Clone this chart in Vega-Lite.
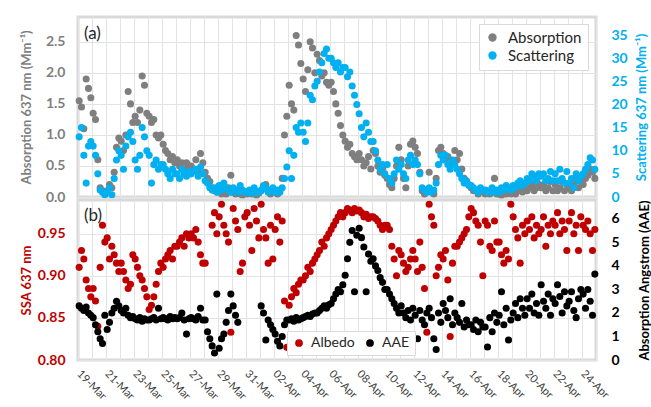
{
"$schema":"https://vega.github.io/schema/vega-lite/v6.json",
"background":"white",
"padding":{"left":18,"top":15,"right":0,"bottom":0},
"config":{"font":"Lato","view":{"stroke":"#d9d9d9","strokeWidth":3},"axis":{"domain":false,"ticks":false,"gridColor":"#e3e3e3","labelFont":"Lato","titleFont":"Lato","labelOverlap":false},"legend":{"labelFont":"Lato"},"title":{"font":"Lato","fontSize":17,"fontWeight":"normal","color":"#262626","anchor":"start","frame":"group"}},
"data":{"values":[
{"t":"2019-03-19T02:00Z","a":1.55,"s":13,"w":0.91,"e":2.3},{"t":"2019-03-19T06:00Z","a":1.45,"s":15,"w":0.93,"e":2.2},{"t":"2019-03-19T10:00Z","a":1.1,"s":9,"w":0.92,"e":2.1},{"t":"2019-03-19T14:00Z","a":1.9,"s":3,"w":0.895,"e":2.25},{"t":"2019-03-19T18:00Z","a":1.75,"s":11,"w":0.885,"e":2.0},{"t":"2019-03-19T22:00Z","a":1.6,"s":12,"w":0.875,"e":1.9},
{"t":"2019-03-20T02:00Z","a":1.35,"s":11,"w":0.885,"e":1.8},{"t":"2019-03-20T06:00Z","a":1.25,"s":9,"w":0.87,"e":1.5},{"t":"2019-03-20T10:00Z","a":0.6,"s":5,"w":0.84,"e":1.2},{"t":"2019-03-20T14:00Z","a":0.15,"s":1.5,"w":0.91,"e":0.9},{"t":"2019-03-20T18:00Z","a":0.1,"s":1,"w":0.96,"e":0.7},{"t":"2019-03-20T22:00Z","a":0.05,"s":0.5,"w":0.94,"e":1.9},
{"t":"2019-03-21T02:00Z","a":0.1,"s":1,"w":0.945,"e":1.3},{"t":"2019-03-21T06:00Z","a":0.2,"s":2,"w":0.92,"e":1.6},{"t":"2019-03-21T10:00Z","a":0.15,"s":0.5,"w":0.935,"e":2.0},{"t":"2019-03-21T14:00Z","a":0.4,"s":4,"w":0.925,"e":2.2},{"t":"2019-03-21T18:00Z","a":0.8,"s":8,"w":0.915,"e":2.5},{"t":"2019-03-21T22:00Z","a":0.95,"s":10,"w":0.905,"e":2.3},
{"t":"2019-03-22T02:00Z","a":0.9,"s":9,"w":0.915,"e":2.1},{"t":"2019-03-22T06:00Z","a":0.75,"s":6,"w":0.905,"e":2.0},{"t":"2019-03-22T10:00Z","a":1.0,"s":11,"w":0.895,"e":2.2},{"t":"2019-03-22T14:00Z","a":1.7,"s":13,"w":0.885,"e":1.9},{"t":"2019-03-22T18:00Z","a":1.5,"s":14,"w":0.89,"e":1.8},{"t":"2019-03-22T22:00Z","a":1.2,"s":12,"w":0.925,"e":1.85},
{"t":"2019-03-23T02:00Z","a":1.3,"s":8,"w":0.92,"e":1.75},{"t":"2019-03-23T06:00Z","a":1.2,"s":6,"w":0.91,"e":1.7},{"t":"2019-03-23T10:00Z","a":1.4,"s":9,"w":0.9,"e":1.8},{"t":"2019-03-23T14:00Z","a":1.95,"s":15,"w":0.895,"e":1.65},{"t":"2019-03-23T18:00Z","a":1.8,"s":13,"w":0.885,"e":1.75},{"t":"2019-03-23T22:00Z","a":1.35,"s":10,"w":0.875,"e":1.7},
{"t":"2019-03-24T02:00Z","a":1.3,"s":9,"w":0.86,"e":1.7},{"t":"2019-03-24T06:00Z","a":1.2,"s":3,"w":0.865,"e":1.75},{"t":"2019-03-24T10:00Z","a":1.25,"s":7,"w":0.875,"e":1.8},{"t":"2019-03-24T14:00Z","a":1.0,"s":8,"w":0.89,"e":1.7},{"t":"2019-03-24T18:00Z","a":0.95,"s":6,"w":0.905,"e":2.2},{"t":"2019-03-24T22:00Z","a":1.0,"s":7,"w":0.915,"e":1.75},
{"t":"2019-03-25T02:00Z","a":0.85,"s":7,"w":0.91,"e":1.8},{"t":"2019-03-25T06:00Z","a":0.75,"s":6,"w":0.92,"e":1.75},{"t":"2019-03-25T10:00Z","a":0.7,"s":5,"w":0.925,"e":1.7},{"t":"2019-03-25T14:00Z","a":0.6,"s":4,"w":0.93,"e":1.85},{"t":"2019-03-25T18:00Z","a":0.65,"s":6,"w":0.92,"e":1.75},{"t":"2019-03-25T22:00Z","a":0.55,"s":5,"w":0.935,"e":1.8},
{"t":"2019-03-26T02:00Z","a":0.6,"s":5,"w":0.935,"e":1.75},{"t":"2019-03-26T06:00Z","a":0.5,"s":4,"w":0.94,"e":1.8},{"t":"2019-03-26T10:00Z","a":0.55,"s":6,"w":0.945,"e":2.0},{"t":"2019-03-26T14:00Z","a":0.45,"s":5,"w":0.935,"e":1.7},{"t":"2019-03-26T18:00Z","a":0.55,"s":4.5,"w":0.95,"e":1.1},{"t":"2019-03-26T22:00Z","a":0.5,"s":5.5,"w":0.945,"e":1.75},
{"t":"2019-03-27T02:00Z","a":0.5,"s":5,"w":0.95,"e":1.8},{"t":"2019-03-27T06:00Z","a":0.45,"s":5.5,"w":0.945,"e":1.75},{"t":"2019-03-27T10:00Z","a":0.6,"s":6,"w":0.955,"e":1.7},{"t":"2019-03-27T14:00Z","a":0.4,"s":4.5,"w":0.94,"e":1.85},{"t":"2019-03-27T18:00Z","a":0.7,"s":6.5,"w":0.925,"e":2.2},{"t":"2019-03-27T22:00Z","a":0.55,"s":5,"w":0.915,"e":1.7},
{"t":"2019-03-28T02:00Z","a":0.4,"s":3.5,"w":0.915,"e":1.7},{"t":"2019-03-28T06:00Z","a":0.3,"s":3,"w":null,"e":1.2},{"t":"2019-03-28T10:00Z","a":0.25,"s":2,"w":null,"e":0.9},{"t":"2019-03-28T14:00Z","a":0.15,"s":1.5,"w":0.96,"e":0.6},{"t":"2019-03-28T18:00Z","a":0.1,"s":2,"w":0.975,"e":0.3},{"t":"2019-03-28T22:00Z","a":0.1,"s":1,"w":0.95,"e":2.8},
{"t":"2019-03-29T02:00Z","a":0.1,"s":2.5,"w":0.97,"e":0.5},{"t":"2019-03-29T06:00Z","a":0.05,"s":1.5,"w":0.985,"e":0.9},{"t":"2019-03-29T10:00Z","a":0.1,"s":3,"w":0.96,"e":1.1},{"t":"2019-03-29T14:00Z","a":0.05,"s":2,"w":0.95,"e":1.6},{"t":"2019-03-29T18:00Z","a":0.15,"s":1.5,"w":0.94,"e":2.1},{"t":"2019-03-29T22:00Z","a":0.35,"s":1,"w":0.833,"e":2.8},
{"t":"2019-03-30T02:00Z","a":0.08,"s":2,"w":0.98,"e":2.3},{"t":"2019-03-30T06:00Z","a":0.05,"s":1.5,"w":0.965,"e":1.9},{"t":"2019-03-30T10:00Z","a":0.1,"s":1,"w":0.955,"e":1.6},{"t":"2019-03-30T14:00Z","a":0.05,"s":2.5,"w":0.905,"e":null},{"t":"2019-03-30T18:00Z","a":0.03,"s":1.5,"w":0.915,"e":null},{"t":"2019-03-30T22:00Z","a":0.08,"s":1,"w":0.97,"e":null},
{"t":"2019-03-31T02:00Z","a":0.05,"s":1,"w":0.975,"e":null},{"t":"2019-03-31T06:00Z","a":0.1,"s":1.5,"w":0.96,"e":null},{"t":"2019-03-31T10:00Z","a":0.05,"s":0.8,"w":0.93,"e":null},{"t":"2019-03-31T14:00Z","a":0.08,"s":2,"w":0.98,"e":null},{"t":"2019-03-31T18:00Z","a":0.03,"s":1.2,"w":0.965,"e":null},{"t":"2019-03-31T22:00Z","a":0.06,"s":1,"w":0.945,"e":null},
{"t":"2019-04-01T02:00Z","a":0.1,"s":1.5,"w":0.985,"e":2.3},{"t":"2019-04-01T06:00Z","a":0.15,"s":2.5,"w":0.955,"e":2.0},{"t":"2019-04-01T10:00Z","a":0.2,"s":2,"w":0.945,"e":0.85},{"t":"2019-04-01T14:00Z","a":0.1,"s":1,"w":0.915,"e":1.7},{"t":"2019-04-01T18:00Z","a":0.05,"s":1.5,"w":0.96,"e":1.5},{"t":"2019-04-01T22:00Z","a":0.1,"s":2,"w":0.92,"e":1.3},
{"t":"2019-04-02T02:00Z","a":0.1,"s":1,"w":0.955,"e":1.1},{"t":"2019-04-02T06:00Z","a":0.05,"s":1.5,"w":0.97,"e":0.8},{"t":"2019-04-02T10:00Z","a":0.1,"s":1,"w":0.94,"e":0.6},{"t":"2019-04-02T14:00Z","a":0.3,"s":2,"w":0.965,"e":1.0},{"t":"2019-04-02T18:00Z","a":1.0,"s":4,"w":0.87,"e":1.5},{"t":"2019-04-02T22:00Z","a":1.3,"s":6.5,"w":0.815,"e":1.7},
{"t":"2019-04-03T02:00Z","a":1.8,"s":10,"w":0.865,"e":1.7},{"t":"2019-04-03T06:00Z","a":1.5,"s":4,"w":0.875,"e":1.75},{"t":"2019-04-03T10:00Z","a":1.4,"s":9,"w":0.885,"e":1.65},{"t":"2019-04-03T14:00Z","a":2.6,"s":15,"w":0.88,"e":1.8},{"t":"2019-04-03T18:00Z","a":2.45,"s":14,"w":0.89,"e":1.7},{"t":"2019-04-03T22:00Z","a":2.15,"s":16,"w":0.895,"e":1.75},
{"t":"2019-04-04T02:00Z","a":1.9,"s":14,"w":0.895,"e":1.8},{"t":"2019-04-04T06:00Z","a":1.7,"s":12,"w":0.9,"e":1.85},{"t":"2019-04-04T10:00Z","a":2.05,"s":16,"w":0.91,"e":1.9},{"t":"2019-04-04T14:00Z","a":2.5,"s":22,"w":0.905,"e":1.85},{"t":"2019-04-04T18:00Z","a":2.4,"s":21,"w":0.915,"e":1.95},{"t":"2019-04-04T22:00Z","a":2.0,"s":24,"w":0.92,"e":2.0},
{"t":"2019-04-05T02:00Z","a":2.3,"s":25,"w":0.925,"e":2.0},{"t":"2019-04-05T06:00Z","a":2.2,"s":27,"w":0.93,"e":2.1},{"t":"2019-04-05T10:00Z","a":1.95,"s":29,"w":0.94,"e":2.2},{"t":"2019-04-05T14:00Z","a":2.0,"s":31,"w":0.935,"e":2.3},{"t":"2019-04-05T18:00Z","a":1.85,"s":32,"w":0.945,"e":2.2},{"t":"2019-04-05T22:00Z","a":1.8,"s":30,"w":0.95,"e":2.35},
{"t":"2019-04-06T02:00Z","a":1.85,"s":30,"w":0.955,"e":2.4},{"t":"2019-04-06T06:00Z","a":1.7,"s":29,"w":0.96,"e":2.6},{"t":"2019-04-06T10:00Z","a":1.5,"s":28,"w":0.965,"e":2.8},{"t":"2019-04-06T14:00Z","a":1.35,"s":29,"w":0.97,"e":3.0},{"t":"2019-04-06T18:00Z","a":1.15,"s":27,"w":0.975,"e":2.9},{"t":"2019-04-06T22:00Z","a":1.0,"s":28,"w":0.97,"e":3.2},
{"t":"2019-04-07T02:00Z","a":0.9,"s":28,"w":0.975,"e":3.6},{"t":"2019-04-07T06:00Z","a":0.8,"s":26,"w":0.98,"e":4.3},{"t":"2019-04-07T10:00Z","a":0.85,"s":27,"w":0.978,"e":5.0},{"t":"2019-04-07T14:00Z","a":0.7,"s":24,"w":0.975,"e":5.5},{"t":"2019-04-07T18:00Z","a":0.65,"s":22,"w":0.98,"e":2.9},{"t":"2019-04-07T22:00Z","a":0.6,"s":20,"w":0.977,"e":5.3},
{"t":"2019-04-08T02:00Z","a":0.7,"s":18,"w":0.978,"e":5.6},{"t":"2019-04-08T06:00Z","a":0.6,"s":15,"w":0.975,"e":5.2},{"t":"2019-04-08T10:00Z","a":0.5,"s":13,"w":0.97,"e":4.8},{"t":"2019-04-08T14:00Z","a":0.55,"s":16,"w":0.973,"e":2.9},{"t":"2019-04-08T18:00Z","a":0.65,"s":14,"w":0.968,"e":4.5},{"t":"2019-04-08T22:00Z","a":0.45,"s":12,"w":0.97,"e":4.2},
{"t":"2019-04-09T02:00Z","a":0.75,"s":12,"w":0.97,"e":4.3},{"t":"2019-04-09T06:00Z","a":0.7,"s":10,"w":0.968,"e":4.0},{"t":"2019-04-09T10:00Z","a":0.5,"s":8,"w":0.965,"e":3.8},{"t":"2019-04-09T14:00Z","a":0.4,"s":6,"w":0.96,"e":3.5},{"t":"2019-04-09T18:00Z","a":0.45,"s":7,"w":0.955,"e":3.3},{"t":"2019-04-09T22:00Z","a":0.35,"s":5,"w":0.96,"e":3.0},
{"t":"2019-04-10T02:00Z","a":0.3,"s":7,"w":0.96,"e":3.0},{"t":"2019-04-10T06:00Z","a":0.2,"s":4,"w":0.955,"e":2.8},{"t":"2019-04-10T10:00Z","a":0.15,"s":3,"w":0.935,"e":2.6},{"t":"2019-04-10T14:00Z","a":0.3,"s":5,"w":0.92,"e":2.4},{"t":"2019-04-10T18:00Z","a":0.5,"s":8,"w":0.9,"e":2.2},{"t":"2019-04-10T22:00Z","a":0.8,"s":6,"w":0.93,"e":2.0},
{"t":"2019-04-11T02:00Z","a":0.6,"s":7,"w":0.925,"e":2.3},{"t":"2019-04-11T06:00Z","a":0.3,"s":5,"w":0.915,"e":2.0},{"t":"2019-04-11T10:00Z","a":0.15,"s":4,"w":0.905,"e":1.8},{"t":"2019-04-11T14:00Z","a":0.5,"s":8,"w":0.91,"e":2.1},{"t":"2019-04-11T18:00Z","a":0.85,"s":9,"w":0.92,"e":1.7},{"t":"2019-04-11T22:00Z","a":0.9,"s":7,"w":0.93,"e":2.2},
{"t":"2019-04-12T02:00Z","a":0.8,"s":8,"w":0.92,"e":1.9},{"t":"2019-04-12T06:00Z","a":0.7,"s":7,"w":0.905,"e":0.9},{"t":"2019-04-12T10:00Z","a":0.4,"s":5,"w":0.94,"e":2.1},{"t":"2019-04-12T14:00Z","a":0.1,"s":2,"w":0.91,"e":1.7},{"t":"2019-04-12T18:00Z","a":0.05,"s":1.5,"w":0.885,"e":1.5},{"t":"2019-04-12T22:00Z","a":0.08,"s":1,"w":0.833,"e":2.0},
{"t":"2019-04-13T02:00Z","a":0.4,"s":2,"w":0.985,"e":2.2},{"t":"2019-04-13T06:00Z","a":0.1,"s":1,"w":0.97,"e":1.8},{"t":"2019-04-13T10:00Z","a":0.05,"s":1.5,"w":0.96,"e":0.9},{"t":"2019-04-13T14:00Z","a":0.3,"s":3,"w":0.9,"e":0.45},{"t":"2019-04-13T18:00Z","a":0.75,"s":7,"w":0.91,"e":2.0},{"t":"2019-04-13T22:00Z","a":0.8,"s":9,"w":0.925,"e":1.6},
{"t":"2019-04-14T02:00Z","a":0.7,"s":8,"w":0.92,"e":2.4},{"t":"2019-04-14T06:00Z","a":0.6,"s":9,"w":0.93,"e":2.1},{"t":"2019-04-14T10:00Z","a":0.65,"s":7,"w":0.895,"e":1.8},{"t":"2019-04-14T14:00Z","a":0.5,"s":6,"w":0.828,"e":2.6},{"t":"2019-04-14T18:00Z","a":0.55,"s":8,"w":0.915,"e":1.5},{"t":"2019-04-14T22:00Z","a":0.75,"s":7,"w":0.935,"e":2.0},
{"t":"2019-04-15T02:00Z","a":0.6,"s":6,"w":0.935,"e":1.8},{"t":"2019-04-15T06:00Z","a":0.7,"s":5,"w":0.94,"e":1.6},{"t":"2019-04-15T10:00Z","a":0.45,"s":4,"w":0.945,"e":2.4},{"t":"2019-04-15T14:00Z","a":0.3,"s":3,"w":0.95,"e":1.4},{"t":"2019-04-15T18:00Z","a":0.25,"s":3.5,"w":0.955,"e":1.7},{"t":"2019-04-15T22:00Z","a":0.2,"s":2.5,"w":0.97,"e":1.5},
{"t":"2019-04-16T02:00Z","a":0.15,"s":2.5,"w":0.98,"e":1.5},{"t":"2019-04-16T06:00Z","a":0.1,"s":2,"w":0.975,"e":1.3},{"t":"2019-04-16T10:00Z","a":0.1,"s":1.5,"w":0.965,"e":1.7},{"t":"2019-04-16T14:00Z","a":0.05,"s":1,"w":0.96,"e":1.2},{"t":"2019-04-16T18:00Z","a":0.12,"s":2,"w":0.94,"e":1.6},{"t":"2019-04-16T22:00Z","a":0.08,"s":1.5,"w":0.9,"e":1.4},
{"t":"2019-04-17T02:00Z","a":0.05,"s":1.5,"w":0.965,"e":1.4},{"t":"2019-04-17T06:00Z","a":0.1,"s":1,"w":0.96,"e":0.55},{"t":"2019-04-17T10:00Z","a":0.05,"s":1.2,"w":0.935,"e":1.8},{"t":"2019-04-17T14:00Z","a":0.08,"s":2,"w":0.93,"e":1.2},{"t":"2019-04-17T18:00Z","a":0.3,"s":1,"w":0.965,"e":2.0},{"t":"2019-04-17T22:00Z","a":0.05,"s":1.5,"w":0.94,"e":1.6},
{"t":"2019-04-18T02:00Z","a":0.05,"s":1,"w":0.94,"e":1.9},{"t":"2019-04-18T06:00Z","a":0.03,"s":2,"w":0.925,"e":2.9},{"t":"2019-04-18T10:00Z","a":0.08,"s":1.5,"w":0.915,"e":1.5},{"t":"2019-04-18T14:00Z","a":0.05,"s":2.5,"w":0.93,"e":2.2},{"t":"2019-04-18T18:00Z","a":0.1,"s":2,"w":0.92,"e":0.85},{"t":"2019-04-18T22:00Z","a":0.05,"s":1.5,"w":0.985,"e":1.7},
{"t":"2019-04-19T02:00Z","a":0.1,"s":2.5,"w":0.97,"e":2.0},{"t":"2019-04-19T06:00Z","a":0.05,"s":2,"w":0.955,"e":2.4},{"t":"2019-04-19T10:00Z","a":0.15,"s":3,"w":0.945,"e":1.8},{"t":"2019-04-19T14:00Z","a":0.1,"s":3.5,"w":0.915,"e":2.6},{"t":"2019-04-19T18:00Z","a":0.08,"s":2.5,"w":0.96,"e":2.2},{"t":"2019-04-19T22:00Z","a":0.12,"s":3,"w":0.95,"e":1.9},
{"t":"2019-04-20T02:00Z","a":0.1,"s":4,"w":0.965,"e":2.6},{"t":"2019-04-20T06:00Z","a":0.15,"s":3.5,"w":0.955,"e":2.2},{"t":"2019-04-20T10:00Z","a":0.2,"s":5,"w":0.97,"e":2.8},{"t":"2019-04-20T14:00Z","a":0.1,"s":4.5,"w":0.945,"e":2.0},{"t":"2019-04-20T18:00Z","a":0.15,"s":3.5,"w":0.96,"e":2.4},{"t":"2019-04-20T22:00Z","a":0.2,"s":5,"w":0.95,"e":1.9},
{"t":"2019-04-21T02:00Z","a":0.15,"s":4.5,"w":0.955,"e":3.2},{"t":"2019-04-21T06:00Z","a":0.2,"s":5,"w":0.97,"e":2.5},{"t":"2019-04-21T10:00Z","a":0.1,"s":3.5,"w":0.935,"e":2.2},{"t":"2019-04-21T14:00Z","a":0.15,"s":4,"w":0.96,"e":2.8},{"t":"2019-04-21T18:00Z","a":0.25,"s":5.5,"w":0.95,"e":1.9},{"t":"2019-04-21T22:00Z","a":0.1,"s":3.5,"w":0.965,"e":2.6},
{"t":"2019-04-22T02:00Z","a":0.2,"s":5,"w":0.96,"e":2.4},{"t":"2019-04-22T06:00Z","a":0.1,"s":3.5,"w":0.975,"e":3.2},{"t":"2019-04-22T10:00Z","a":0.15,"s":6,"w":0.95,"e":2.7},{"t":"2019-04-22T14:00Z","a":0.25,"s":4,"w":0.965,"e":2.0},{"t":"2019-04-22T18:00Z","a":0.1,"s":3,"w":0.955,"e":2.9},{"t":"2019-04-22T22:00Z","a":0.2,"s":5.5,"w":0.93,"e":2.3},
{"t":"2019-04-23T02:00Z","a":0.15,"s":3,"w":0.965,"e":2.5},{"t":"2019-04-23T06:00Z","a":0.1,"s":4,"w":0.975,"e":2.9},{"t":"2019-04-23T10:00Z","a":0.2,"s":2,"w":0.95,"e":2.1},{"t":"2019-04-23T14:00Z","a":0.3,"s":5,"w":0.96,"e":1.8},{"t":"2019-04-23T18:00Z","a":0.15,"s":3.5,"w":0.93,"e":2.6},{"t":"2019-04-23T22:00Z","a":0.25,"s":4.5,"w":0.97,"e":3.0},
{"t":"2019-04-24T02:00Z","a":0.2,"s":5,"w":0.96,"e":2.8},{"t":"2019-04-24T06:00Z","a":0.3,"s":6,"w":0.955,"e":2.2},{"t":"2019-04-24T10:00Z","a":0.35,"s":7,"w":0.965,"e":3.0},{"t":"2019-04-24T14:00Z","a":0.45,"s":8.5,"w":0.95,"e":2.5},{"t":"2019-04-24T18:00Z","a":0.4,"s":8,"w":0.93,"e":1.9},{"t":"2019-04-24T22:00Z","a":0.3,"s":6,"w":0.955,"e":3.65}
]},
"spacing":3,
"bounds":"flush",
"resolve":{"scale":{"color":"independent"},"legend":{"color":"independent"}},
"vconcat":[
{"width":518,"height":180,
 "title":{"text":"(a)","offset":-26,"dx":6},
 "resolve":{"scale":{"y":"independent"}},
 "layer":[
  {"mark":{"type":"point","filled":true,"size":50,"opacity":1},
   "encoding":{
    "x":{"field":"t","type":"temporal","scale":{"type":"utc","domain":[{"year":2019,"month":3,"date":19,"utc":true},{"year":2019,"month":4,"date":25,"utc":true}]},"axis":{"title":null,"labels":false,"grid":true,"tickCount":{"interval":"day","step":1}}},
    "y":{"field":"a","type":"quantitative","scale":{"domain":[0,2.9],"nice":false},"axis":{"title":"Absorption 637 nm (Mm⁻¹)","values":[0,0.5,1,1.5,2,2.5],"tickCount":8,"format":".1f","grid":true,"labelOverlap":false,"labelColor":"#7f7f7f","labelFontSize":14,"labelFontWeight":"bold","labelPadding":13,"titleColor":"#7f7f7f","titleFontSize":13,"titleFontWeight":"bold","titlePadding":12}},
    "color":{"datum":"Absorption","type":"nominal","scale":{"domain":["Absorption","Scattering"],"range":["#7f7f7f","#00b0f0"]},"legend":{"title":null,"orient":"none","legendX":401,"legendY":7,"direction":"vertical","fillColor":"white","strokeColor":"#d9d9d9","padding":6,"symbolType":"circle","symbolSize":70,"labelFontSize":15,"labelColor":"#262626","rowPadding":2,"labelOffset":8}}
   }},
  {"mark":{"type":"point","filled":true,"size":50,"opacity":1},
   "encoding":{
    "x":{"field":"t","type":"temporal"},
    "y":{"field":"s","type":"quantitative","scale":{"domain":[0,38.9],"nice":false},"axis":{"orient":"right","title":"Scattering 637 nm (Mm⁻¹)","values":[0,5,10,15,20,25,30,35],"grid":false,"labelOverlap":false,"labelColor":"#00b0f0","labelFontSize":14,"labelFontWeight":"bold","labelPadding":15,"titleColor":"#00b0f0","titleFontSize":13,"titleFontWeight":"bold","titlePadding":8,"titleAngle":270,"titleBaseline":"top"}},
    "color":{"datum":"Scattering","type":"nominal"}
   }}
 ]},
{"width":518,"height":160,
 "title":{"text":"(b)","offset":-25,"dx":6},
 "resolve":{"scale":{"y":"independent"}},
 "layer":[
  {"mark":{"type":"point","filled":true,"size":50,"opacity":1},
   "encoding":{
    "x":{"field":"t","type":"temporal","scale":{"type":"utc","domain":[{"year":2019,"month":3,"date":19,"utc":true},{"year":2019,"month":4,"date":25,"utc":true}]},"axis":{"title":null,"grid":true,"tickCount":{"interval":"day","step":1},"labelAngle":45,"labelAlign":"left","labelBaseline":"middle","labelPadding":12,"labelFontSize":11,"labelColor":"#404040","labelOverlap":false,"labelExpr":"floor((datum.value - utc(2019,2,19))/86400000 + 0.5) % 2 == 0 ? utcFormat(datum.value, '%d-%b') : ''"}},
    "y":{"field":"w","type":"quantitative","scale":{"domain":[0.8,0.99],"nice":false},"axis":{"title":"SSA 637 nm","values":[0.8,0.85,0.9,0.95],"format":".2f","grid":true,"labelOverlap":false,"labelColor":"#c00000","labelFontSize":14,"labelFontWeight":"bold","labelPadding":13,"titleColor":"#c00000","titleFontSize":13,"titleFontWeight":"bold","titlePadding":4}},
    "color":{"datum":"Albedo","type":"nominal","scale":{"domain":["Albedo","AAE"],"range":["#c00000","#000000"]},"legend":{"title":null,"orient":"none","legendX":209,"legendY":131,"direction":"horizontal","fillColor":"white","strokeColor":"#d9d9d9","padding":5,"symbolType":"circle","symbolSize":60,"labelFontSize":14,"labelColor":"#262626","columnPadding":8,"labelOffset":5}}
   }},
  {"mark":{"type":"point","filled":true,"size":50,"opacity":1},
   "encoding":{
    "x":{"field":"t","type":"temporal"},
    "y":{"field":"e","type":"quantitative","scale":{"domain":[0,6.8],"nice":false},"axis":{"orient":"right","title":"Absorption Angstrom (AAE)","values":[0,1,2,3,4,5,6],"grid":false,"labelOverlap":false,"labelColor":"#000000","labelFontSize":14,"labelFontWeight":"bold","labelPadding":15,"titleColor":"#000000","titleFontSize":13,"titleFontWeight":"bold","titlePadding":19,"titleAngle":270,"titleBaseline":"top"}},
    "color":{"datum":"AAE","type":"nominal"}
   }}
 ]}
]
}
